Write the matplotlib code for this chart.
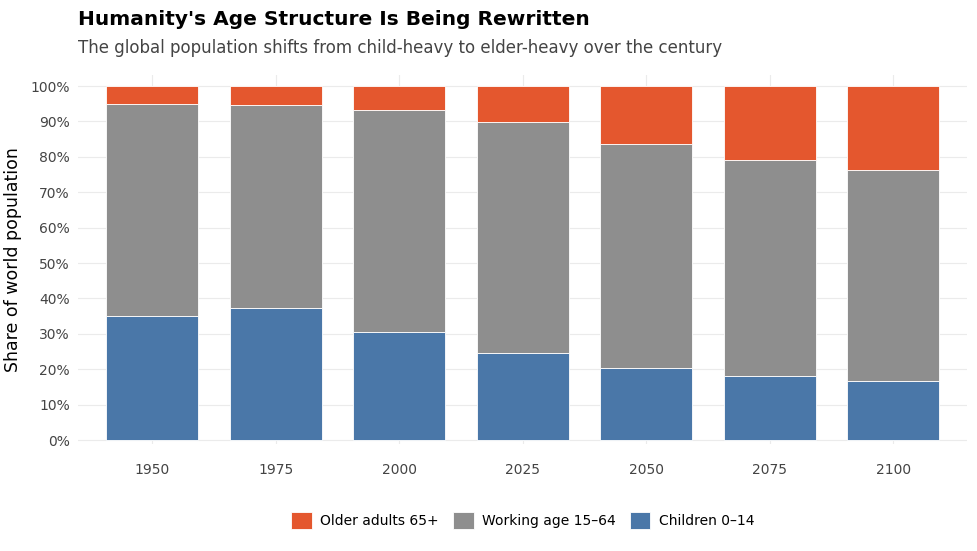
import matplotlib.pyplot as plt
import numpy as np
from matplotlib.ticker import PercentFormatter

years = ['1950', '1975', '2000', '2025', '2050', '2075', '2100']
children = [35.0, 37.2, 30.4, 24.6, 20.3, 18.1, 16.6]
working = [60.0, 57.4, 62.9, 65.2, 63.4, 61.1, 59.6]
older = [5.0, 5.4, 6.7, 10.2, 16.3, 20.8, 23.8]

c_child = '#4a77a8'
c_work = '#8e8e8e'
c_old = '#e4572e'

fig, ax = plt.subplots(figsize=(9.77, 5.51), dpi=100)
fig.subplots_adjust(left=0.08, right=0.99, top=0.863, bottom=0.195)

x = np.arange(len(years))
w = 0.745
b1 = ax.bar(x, children, w, color=c_child, edgecolor='white', linewidth=0.6, label='Children 0–14')
b2 = ax.bar(x, working, w, bottom=children, color=c_work, edgecolor='white', linewidth=0.6, label='Working age 15–64')
b3 = ax.bar(x, older, w, bottom=np.array(children) + np.array(working), color=c_old,
            edgecolor='white', linewidth=0.6, label='Older adults 65+')

ax.set_ylim(-1, 103)
ax.set_xlim(-0.6, 6.6)
ax.set_yticks(np.arange(0, 101, 10))
ax.yaxis.set_major_formatter(PercentFormatter(decimals=0))
ax.set_xticks(x)
ax.set_xticklabels(years)
ax.tick_params(length=0, labelsize=10, colors='#444444', pad=6)
ax.tick_params(axis='x', pad=14)
ax.grid(True, color='#ebebeb', linewidth=0.8)
ax.set_axisbelow(True)
for s in ax.spines.values():
    s.set_visible(False)
ax.set_ylabel('Share of world population', fontsize=12.5, color='black', labelpad=6)

fig.text(0.08, 0.965, "Humanity's Age Structure Is Being Rewritten", fontsize=14.5, fontweight='bold', va='center')
fig.text(0.08, 0.912, 'The global population shifts from child-heavy to elder-heavy over the century',
         fontsize=12, color='#444444', va='center')

fig.legend(handles=[b3, b2, b1], loc='center', bbox_to_anchor=(0.535, 0.055), ncol=3,
           frameon=False, fontsize=10, handlelength=1.5, handleheight=1.5, columnspacing=1.0,
           handletextpad=0.6)

fig.savefig('out.png', dpi=100)
